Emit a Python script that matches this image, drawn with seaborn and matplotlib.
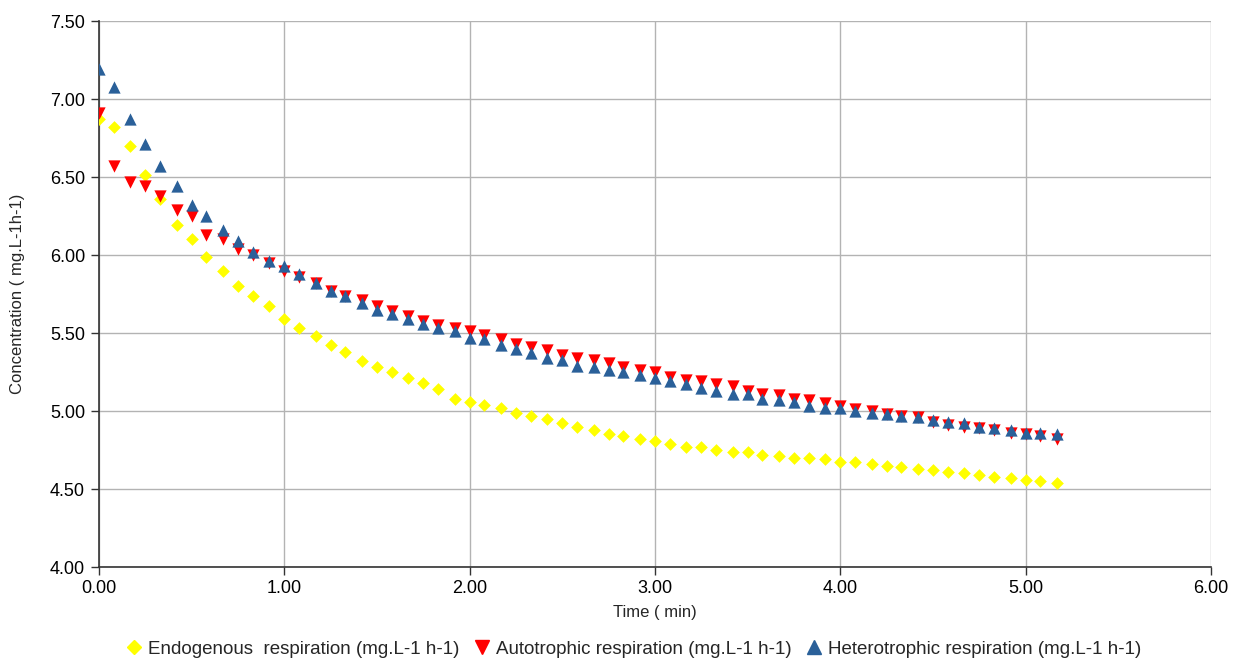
import pandas as pd
import seaborn as sns
import matplotlib.pyplot as plt
from matplotlib.lines import Line2D

# sampling times (min), every 5 s
time_min = [0.00, 0.08, 0.17, 0.25, 0.33, 0.42, 0.50, 0.58, 0.67, 0.75,
            0.83, 0.92, 1.00, 1.08, 1.17, 1.25, 1.33, 1.42, 1.50, 1.58,
            1.67, 1.75, 1.83, 1.92, 2.00, 2.08, 2.17, 2.25, 2.33, 2.42,
            2.50, 2.58, 2.67, 2.75, 2.83, 2.92, 3.00, 3.08, 3.17, 3.25,
            3.33, 3.42, 3.50, 3.58, 3.67, 3.75, 3.83, 3.92, 4.00, 4.08,
            4.17, 4.25, 4.33, 4.42, 4.50, 4.58, 4.67, 4.75, 4.83, 4.92,
            5.00, 5.08, 5.17]

endogenous = [6.87, 6.82, 6.70, 6.51, 6.36, 6.19, 6.10, 5.99, 5.90, 5.80,
              5.74, 5.67, 5.59, 5.53, 5.48, 5.42, 5.38, 5.32, 5.28, 5.25,
              5.21, 5.18, 5.14, 5.08, 5.06, 5.04, 5.02, 4.99, 4.97, 4.95,
              4.92, 4.90, 4.88, 4.85, 4.84, 4.82, 4.81, 4.79, 4.77, 4.77,
              4.75, 4.74, 4.74, 4.72, 4.71, 4.70, 4.70, 4.69, 4.67, 4.67,
              4.66, 4.65, 4.64, 4.63, 4.62, 4.61, 4.60, 4.59, 4.58, 4.57,
              4.56, 4.55, 4.54]

autotrophic = [6.91, 6.57, 6.47, 6.44, 6.38, 6.29, 6.25, 6.13, 6.10, 6.04,
               6.00, 5.95, 5.90, 5.86, 5.82, 5.77, 5.74, 5.71, 5.67, 5.64,
               5.61, 5.58, 5.55, 5.53, 5.51, 5.49, 5.46, 5.43, 5.41, 5.39,
               5.36, 5.34, 5.33, 5.31, 5.28, 5.26, 5.25, 5.22, 5.20, 5.19,
               5.17, 5.16, 5.13, 5.11, 5.10, 5.08, 5.07, 5.05, 5.03, 5.01,
               5.00, 4.98, 4.97, 4.96, 4.93, 4.91, 4.90, 4.89, 4.88, 4.86,
               4.85, 4.84, 4.82]

heterotrophic = [7.19, 7.08, 6.87, 6.71, 6.57, 6.44, 6.32, 6.25, 6.16, 6.09,
                 6.02, 5.96, 5.93, 5.88, 5.82, 5.77, 5.74, 5.69, 5.65, 5.62,
                 5.59, 5.56, 5.53, 5.51, 5.47, 5.46, 5.42, 5.40, 5.37, 5.34,
                 5.33, 5.29, 5.28, 5.26, 5.25, 5.23, 5.21, 5.19, 5.17, 5.15,
                 5.13, 5.11, 5.11, 5.08, 5.07, 5.06, 5.03, 5.02, 5.02, 5.00,
                 4.99, 4.98, 4.97, 4.96, 4.94, 4.93, 4.92, 4.90, 4.89, 4.88,
                 4.86, 4.86, 4.85]

series = ["Endogenous  respiration (mg.L-1 h-1)",
          "Autotrophic respiration (mg.L-1 h-1)",
          "Heterotrophic respiration (mg.L-1 h-1)"]
colors = ["#ffff00", "#ff0000", "#2a6099"]
markers = ["D", "v", "^"]
sizes = [42, 78, 78]

sns.set_style("white")
plt.rcParams['font.family'] = ['Liberation Sans', 'DejaVu Sans']

fig = plt.figure(figsize=(12.4, 6.61), dpi=100)
ax = fig.add_axes([0.0798, 0.1422, 0.8968, 0.826])

for name, vals, c, m, s in zip(series, [endogenous, autotrophic, heterotrophic],
                               colors, markers, sizes):
    df = pd.DataFrame({"time": time_min, "conc": vals})
    sns.scatterplot(data=df, x="time", y="conc", ax=ax, color=c, marker=m,
                    s=s, linewidth=0, legend=False, zorder=3)

ax.set_xlim(0, 6)
ax.set_ylim(4, 7.5)
ax.set_xticks([0, 1, 2, 3, 4, 5, 6])
ax.set_yticks([4.0, 4.5, 5.0, 5.5, 6.0, 6.5, 7.0, 7.5])
ax.xaxis.set_major_formatter(plt.FormatStrFormatter('%.2f'))
ax.yaxis.set_major_formatter(plt.FormatStrFormatter('%.2f'))
ax.grid(True, color="#b3b3b3", linewidth=1)
ax.set_axisbelow(True)
for side in ["top", "right"]:
    ax.spines[side].set_visible(False)
for side in ["left", "bottom"]:
    ax.spines[side].set_color("#333333")
    ax.spines[side].set_linewidth(1.2)
ax.tick_params(axis="both", labelsize=13, colors="#333333", length=6,
               width=1, direction="out", left=True, bottom=True, pad=3)
ax.tick_params(axis="y", pad=4)
ax.tick_params(axis="both", labelcolor="#000000")
ax.set_xlabel("Time ( min)", fontsize=12, labelpad=6)
ax.set_ylabel("Concentration ( mg.L-1h-1)", fontsize=12, labelpad=18)

handles = [Line2D([], [], linestyle="none", marker=m, color=c, markersize=ms)
           for m, c, ms in zip(markers, colors, [7.5, 10, 10])]
fig.legend(handles, series, loc="center", bbox_to_anchor=(0.51, 0.018), ncol=3,
           frameon=False, fontsize=13.5, handletextpad=0.15, handlelength=1.2,
           columnspacing=0.6, borderaxespad=0, borderpad=0)

fig.savefig("out.png", dpi=100)
